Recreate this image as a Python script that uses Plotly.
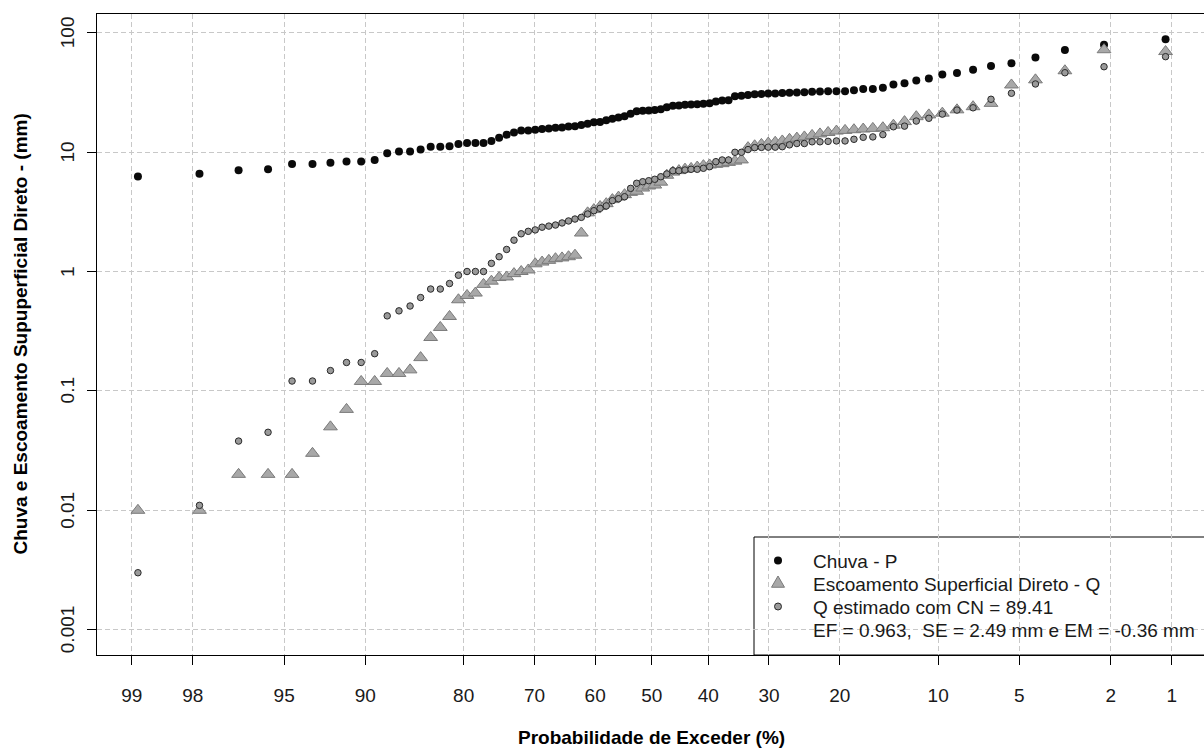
from statistics import NormalDist
import math
import plotly.graph_objects as go

# ---------------- data ----------------
chuva_p = [6.25, 6.6, 7.03, 7.2, 7.94, 7.94, 8.15, 8.35, 8.35, 8.57,
           9.8, 10.1, 10.1, 10.5, 11.1, 11.1, 11.2, 11.7, 11.9, 11.9,
           11.9, 12.4, 13.2, 14.0, 14.6, 15.2, 15.2, 15.4, 15.6, 15.8,
           16.0, 16.1, 16.4, 16.5, 16.9, 17.3, 17.8, 17.9, 18.5, 19.0,
           19.5, 20.0, 21.0, 22.0, 22.2, 22.3, 22.5, 22.9, 23.7, 24.4,
           24.6, 24.9, 25.1, 25.2, 25.4, 25.7, 26.5, 27.0, 27.2, 29.3,
           29.6, 30.1, 30.5, 30.7, 30.9, 31.0, 31.2, 31.4, 31.6, 31.7,
           32.0, 32.1, 32.3, 32.4, 32.4, 32.9, 33.7, 33.7, 34.6, 36.9,
           37.8, 39.8, 41.4, 44.7, 45.9, 49.0, 52.5, 55.6, 62.1, 71.5,
           79.4, 88.3]

escoamento_q = [0.01, 0.01, 0.02, 0.02, 0.02, 0.03, 0.05, 0.07, 0.12, 0.12,
                0.14, 0.14, 0.15, 0.19, 0.28, 0.34, 0.42, 0.58, 0.63, 0.66,
                0.78, 0.83, 0.89, 0.90, 0.96, 1.0, 1.03, 1.16, 1.2, 1.24,
                1.28, 1.3, 1.33, 1.37, 2.1, 3.1, 3.3, 3.5, 3.7, 4.0,
                4.2, 4.4, 4.6, 4.7, 5.0, 5.2, 5.3, 5.6, 6.4, 6.8,
                7.0, 7.2, 7.3, 7.5, 7.7, 7.8, 7.9, 8.0, 8.2, 8.4,
                8.6, 10.9, 11.3, 11.6, 11.9, 12.1, 12.4, 12.8, 13.1, 13.4,
                13.8, 14.2, 14.6, 15.0, 15.2, 15.4, 15.6, 15.8, 16.0, 16.8,
                18.0, 19.8, 20.5, 21.2, 22.6, 24.0, 25.6, 36.5, 40.3, 48.0,
                72.0, 69.5]

q_estimado = [0.003, 0.011, 0.038, 0.045, 0.121, 0.121, 0.148, 0.173, 0.173, 0.205,
              0.425, 0.468, 0.514, 0.605, 0.713, 0.713, 0.793, 0.93, 1.0, 1.0,
              1.0, 1.17, 1.33, 1.53, 1.83, 2.07, 2.17, 2.23, 2.35, 2.4,
              2.45, 2.55, 2.65, 2.75, 2.84, 3.03, 3.23, 3.38, 3.54, 3.92,
              4.07, 4.23, 4.97, 5.48, 5.65, 5.76, 5.92, 6.22, 6.56, 6.98,
              6.98, 7.08, 7.18, 7.18, 7.32, 7.55, 8.31, 8.59, 8.59, 9.96,
              9.96, 10.5, 10.9, 10.95, 11.0, 11.0, 11.1, 11.5, 11.8, 11.8,
              12.2, 12.2, 12.3, 12.4, 12.4, 12.8, 13.3, 13.4, 14.0, 16.3,
              16.5, 18.2, 19.2, 20.8, 22.5, 23.5, 27.7, 31.1, 37.2, 46.2,
              51.9, 63.0]

prob_ticks = [99, 98, 95, 90, 80, 70, 60, 50, 40, 30, 20, 10, 5, 2, 1]
y_ticks = [0.001, 0.01, 0.1, 1, 10, 100]
y_tick_labels = ["0.001", "0.01", "0.1", "1", "10", "100"]

legend_labels = ["Chuva - P",
                 "Escoamento Superficial Direto - Q",
                 "Q estimado com CN = 89.41",
                 "EF = 0.963,  SE = 2.49 mm e EM = -0.36 mm"]

# ---------------- probability scale ----------------
nd = NormalDist()
n = len(chuva_p)
# Weibull plotting position: exceedance = 1 - i/(n+1) for ascending rank i
exceed = [1 - i / (n + 1) for i in range(1, n + 1)]
xz = [nd.inv_cdf(1 - e) for e in exceed]
tick_z = [nd.inv_cdf(1 - p / 100) for p in prob_ticks]

FONT = "Liberation Sans, Arial, sans-serif"
W, H = 1204, 749
ML, MR, MT, MB = 97, 0, 14, 94
PW = W - ML - MR
PH = H - MT - MB

px_per_z = 223.5
z_left = -(651.75 - ML) / px_per_z
z_right = z_left + PW / px_per_z

fig = go.Figure()

fig.add_trace(go.Scatter(
    x=xz, y=chuva_p, mode="markers", name=legend_labels[0],
    marker=dict(symbol="circle", size=8, color="#0a0a0a", line=dict(width=0)),
    showlegend=False))
fig.add_trace(go.Scatter(
    x=xz, y=escoamento_q, mode="markers", name=legend_labels[1],
    marker=dict(symbol="triangle-up", size=12, color="#a8a8a8",
                line=dict(width=1, color="#7a7a7a")),
    showlegend=False))
fig.add_trace(go.Scatter(
    x=xz, y=q_estimado, mode="markers", name=legend_labels[2],
    marker=dict(symbol="circle", size=6.5, color="#9a9a9a",
                line=dict(width=1, color="#2a2a2a")),
    showlegend=False))

grid = dict(showgrid=True, gridcolor="#c8c8c8", gridwidth=1, griddash="5px,3px")

fig.update_xaxes(
    range=[z_left, z_right], tickvals=tick_z, ticktext=[str(p) for p in prob_ticks],
    ticks="outside", ticklen=9, tickwidth=1, tickcolor="#000",
    showline=True, linecolor="#000", linewidth=1, mirror=True,
    zeroline=False, tickfont=dict(family=FONT, size=19, color="#1a1a1a"),
    ticklabelstandoff=14, **grid)
fig.update_yaxes(
    type="log", range=[(271.5 - (H - MB)) / 119.4, (271.5 - MT) / 119.4],
    tickvals=y_ticks, showticklabels=False,
    ticks="outside", ticklen=9, tickwidth=1, tickcolor="#000",
    showline=True, linecolor="#000", linewidth=1, mirror=False,
    zeroline=False, **grid)

ann = []
for v, lab in zip(y_ticks, y_tick_labels):
    ann.append(dict(xref="paper", x=0, xshift=-29.5, yref="y", y=math.log10(v),
                    text=lab, textangle=-90, showarrow=False,
                    xanchor="center", yanchor="middle",
                    font=dict(family=FONT, size=19, color="#1a1a1a")))

ann.append(dict(xref="paper", x=(651.75 - ML) / PW, yref="paper", y=0, yshift=-82,
                text="<b>Probabilidade de Exceder (%)</b>", showarrow=False,
                xanchor="center", yanchor="middle",
                font=dict(family=FONT, size=19, color="#000")))
ann.append(dict(xref="paper", x=0, xshift=-77, yref="paper", y=0.5,
                text="<b>Chuva e Escoamento Supuperficial Direto - (mm)</b>",
                textangle=-90, showarrow=False, xanchor="center", yanchor="middle",
                font=dict(family=FONT, size=19, color="#000")))

# ---------------- legend (drawn manually) ----------------
def px_x(x):
    return (x - ML) / PW


def px_y(y):
    return (H - MB - y) / PH


shapes = [dict(type="rect", xref="paper", yref="paper",
               x0=px_x(754), x1=1.05, y0=0, y1=px_y(537),
               line=dict(color="#000", width=1), fillcolor="#ffffff", layer="between")]

row_sym = [560.5, 583.5, 606.5]
row_txt = [561.0, 584.0, 607.0, 630.5]
sx = px_x(778)
shapes.append(dict(type="circle", xref="paper", yref="paper", xsizemode="pixel",
                   ysizemode="pixel", xanchor=sx, yanchor=px_y(row_sym[0]),
                   x0=-4, x1=4, y0=-4, y1=4, fillcolor="#0a0a0a",
                   line=dict(width=0), layer="above"))
shapes.append(dict(type="path", xref="paper", yref="paper", xsizemode="pixel",
                   ysizemode="pixel", xanchor=sx, yanchor=px_y(row_sym[1]),
                   path="M -6.5,-3.75 L 6.5,-3.75 L 0,7.5 Z", fillcolor="#a8a8a8",
                   line=dict(width=1, color="#7a7a7a"), layer="above"))
shapes.append(dict(type="circle", xref="paper", yref="paper", xsizemode="pixel",
                   ysizemode="pixel", xanchor=sx, yanchor=px_y(row_sym[2]),
                   x0=-3.5, x1=3.5, y0=-3.5, y1=3.5, fillcolor="#9a9a9a",
                   line=dict(width=1, color="#2a2a2a"), layer="above"))

for lab, ry in zip(legend_labels, row_txt):
    ann.append(dict(xref="paper", x=px_x(811), yref="paper", y=px_y(ry),
                    text=lab, showarrow=False, xanchor="left", yanchor="middle",
                    font=dict(family=FONT, size=19, color="#1a1a1a")))

fig.update_layout(
    width=W, height=H, autosize=False,
    margin=dict(l=ML, r=MR, t=MT, b=MB, pad=0),
    paper_bgcolor="#ffffff", plot_bgcolor="#ffffff",
    font=dict(family=FONT, size=19, color="#000"),
    annotations=ann, shapes=shapes, showlegend=False)

fig.write_html("out.html")
